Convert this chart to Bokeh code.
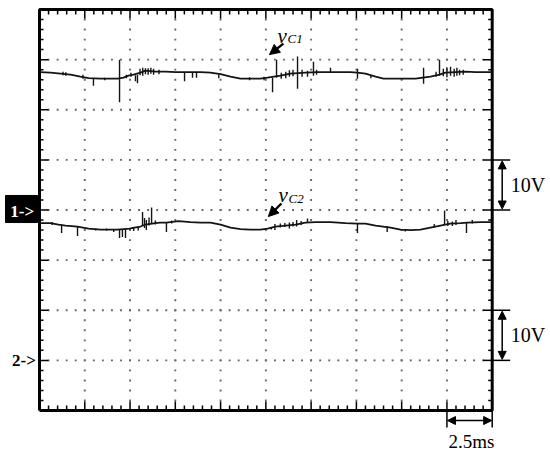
from bokeh.plotting import figure
from bokeh.models import Range1d, Label, Arrow, NormalHead
from bokeh.embed import file_html
from bokeh.resources import INLINE

# ---------------- data ----------------
MS_PER_DIV = 2.5          # time base
VOLTS_PER_DIV = 10.0      # both channels
CH1_REF_DIV = 4           # "1->" ground marker
CH2_REF_DIV = 1           # "2->" ground marker

# vC1: slowly varying envelope (ms, V)
vc1_t = [0, 0.61, 1.16, 1.71, 2.26, 2.71, 3.37, 3.92, 4.31, 4.64, 4.91, 5.19, 5.58, 5.85,
         6.41, 6.96, 7.51, 8.34, 8.89, 9.44, 10.0, 10.55, 11.10, 11.65, 12.20, 12.59, 13.31,
         13.86, 14.69, 15.35, 16.07, 16.62, 17.17, 17.56, 18.0, 18.56, 19.0, 19.94, 20.76,
         21.59, 22.09, 22.42, 22.97, 23.53, 24.08, 25.0]
vc1_v = [27.5, 27.4, 27.2, 27.0, 26.6, 26.3, 26.2, 26.2, 26.2, 26.4, 26.8, 27.0, 27.4, 27.8,
         27.6, 27.6, 27.5, 27.5, 27.5, 27.4, 27.1, 26.6, 26.2, 26.2, 26.2, 26.4, 26.8,
         27.2, 27.4, 27.5, 27.5, 27.5, 27.5, 27.4, 27.2, 26.6, 26.2, 26.2, 26.2,
         26.6, 27.0, 27.4, 27.5, 27.6, 27.5, 27.5]
# vC1 switching spikes (ms, low V, high V)
vc1_spike_t = [1.30, 1.45, 2.40, 2.98, 3.60, 4.42, 4.80, 5.05, 5.30, 5.41, 5.55, 5.70, 5.85,
               6.00, 6.15, 6.30, 6.60, 8.01, 8.45, 8.67, 9.90, 11.60, 12.40, 12.87, 13.09,
               13.35, 13.60, 13.80, 14.00, 14.25, 14.50, 14.80, 15.13, 15.30, 16.07, 17.56,
               18.30, 21.21, 21.90, 22.09, 22.30, 22.50, 22.70, 22.90, 23.05, 23.20, 23.40]
vc1_spike_lo = [26.9, 26.8, 26.2, 24.8, 25.9, 21.5, 26.3, 26.6, 25.7, 25.3, 26.9, 26.8, 27.1,
                27.0, 27.2, 27.0, 27.1, 25.7, 26.4, 26.4, 26.3, 25.9, 25.9, 23.5, 26.4,
                26.2, 26.3, 26.6, 26.7, 24.2, 26.6, 26.6, 26.8, 27.0, 27.5, 26.2,
                26.3, 25.2, 26.6, 26.8, 26.7, 26.5, 26.8, 26.6, 26.8, 26.9, 27.0]
vc1_spike_hi = [27.6, 27.5, 27.0, 26.3, 26.4, 30.0, 27.0, 27.4, 26.9, 27.0, 28.2, 28.4, 28.3,
                28.3, 28.4, 28.2, 28.0, 27.5, 27.5, 27.5, 27.1, 26.5, 26.6, 26.4, 30.0,
                27.4, 27.6, 27.9, 28.0, 30.6, 28.0, 27.8, 29.6, 28.0, 28.4, 28.2,
                26.9, 28.4, 27.6, 30.0, 28.2, 28.5, 28.6, 28.2, 28.4, 28.0, 28.0]

# vC2: slowly varying envelope (ms, V)
vc2_t = [0, 0.61, 1.05, 1.44, 2.10, 2.71, 3.37, 3.92, 4.31, 4.97, 5.24, 5.58, 5.85, 6.41,
         6.68, 7.00, 7.68, 8.34, 8.89, 9.44, 10.0, 10.55, 11.10, 11.65, 12.20, 12.59, 13.03,
         13.58, 14.14, 14.69, 15.24, 16.07, 16.90, 17.56, 18.0, 18.56, 19.39, 19.94, 20.49,
         21.04, 21.59, 22.14, 22.69, 23.25, 23.64, 24.36, 25.0]
vc2_v = [27.4, 27.4, 27.1, 26.9, 26.7, 26.3, 26.1, 26.1, 26.1, 26.3, 26.5, 26.7, 27.1, 27.4,
         27.5, 27.5, 27.8, 27.6, 27.5, 27.5, 27.1, 26.5, 26.2, 26.1, 26.1, 26.3, 26.7,
         26.9, 27.1, 27.5, 27.6, 27.6, 27.4, 27.3, 27.3, 26.9, 26.5, 26.1, 26.0,
         26.1, 26.5, 26.9, 27.3, 27.4, 27.5, 27.6, 27.6]
# vC2 switching spikes (ms, low V, high V)
vc2_spike_t = [0.70, 1.22, 2.10, 3.10, 3.70, 4.10, 4.42, 4.58, 4.75, 5.20, 5.45, 5.69, 5.80,
               5.90, 6.05, 6.19, 6.40, 7.01, 7.30, 12.80, 13.00, 13.30, 13.55, 13.80, 14.00,
               14.20, 14.45, 14.80, 17.56, 19.20, 20.20, 21.80, 22.37, 22.55, 22.80, 23.00,
               23.58, 23.90]
vc2_spike_lo = [27.0, 25.4, 24.8, 25.9, 25.9, 25.6, 24.4, 24.6, 24.4, 25.8, 25.9, 26.9, 26.4,
                26.0, 26.9, 27.2, 27.1, 25.6, 27.3, 26.1, 26.0, 26.5, 26.6, 26.3, 26.7,
                26.7, 27.0, 27.4, 25.4, 25.6, 25.7, 26.5, 27.0, 26.8, 26.8, 27.0,
                25.4, 27.3]
vc2_spike_hi = [27.6, 27.1, 26.7, 26.3, 26.3, 26.2, 26.1, 26.2, 26.2, 26.5, 26.7, 29.6, 28.4,
                28.0, 28.5, 30.5, 27.9, 27.5, 27.9, 26.6, 27.2, 27.3, 27.4, 27.5, 27.6,
                28.0, 27.8, 28.3, 27.3, 26.8, 26.1, 27.2, 29.9, 27.8, 27.7, 28.0,
                27.5, 28.0]

scale_labels = ["10V", "10V", "2.5ms"]
trace_labels = [("v", "C1"), ("v", "C2")]

# ---------------- figure ----------------
W, H = 550, 459
X0, Y0 = 39, 9      # pixel position of the graticule's left / top edge
PX_T = 18.108       # pixels per ms
PX_D = 50.125       # pixels per division
N_XDIV, N_YDIV = 10, 8
T_END = N_XDIV * MS_PER_DIV

p = figure(width=W, height=H,
           x_range=Range1d(-X0 / PX_T, (W - X0) / PX_T),
           y_range=Range1d(N_YDIV - (H - Y0) / PX_D, N_YDIV + Y0 / PX_D),
           output_backend="svg", toolbar_location=None,
           x_axis_type=None, y_axis_type=None, title=None,
           min_border=0, outline_line_color=None)
p.background_fill_color = "white"
p.border_fill_color = "white"

# graticule dots
dx, dy = [], []
for k in range(1, N_XDIV):
    for j in range(1, N_YDIV * 5):
        dx.append(k * MS_PER_DIV); dy.append(j * 0.2)
for k in range(1, N_YDIV):
    for i in range(1, N_XDIV * 5):
        dx.append(i * MS_PER_DIV / 5); dy.append(k)
p.scatter(dx, dy, marker="square", size=1.9, color="#666666", line_width=0)

# frame ticks
x0s, y0s, x1s, y1s = [], [], [], []
for j in range(1, N_YDIV * 5):
    L = (9 if j % 5 == 0 else 4) / PX_T
    y = j * 0.2
    x0s += [0, T_END]; x1s += [L, T_END - L]; y0s += [y, y]; y1s += [y, y]
for i in range(1, N_XDIV * 5):
    L = (9 if i % 5 == 0 else 5) / PX_D
    x = i * MS_PER_DIV / 5
    x0s += [x, x]; x1s += [x, x]; y0s += [0, N_YDIV]; y1s += [L, N_YDIV - L]
p.segment(x0s, y0s, x1s, y1s, line_color="black", line_width=1.5)

# frame
p.line([0, T_END, T_END, 0, 0], [0, 0, N_YDIV, N_YDIV, 0], line_color="black", line_width=3)

# traces
def to_div(vals, ref):
    return [ref + v / VOLTS_PER_DIV for v in vals]

TRACE = "#141414"
p.line(vc1_t, to_div(vc1_v, CH1_REF_DIV), line_color=TRACE, line_width=1.8)
p.segment(vc1_spike_t, to_div(vc1_spike_lo, CH1_REF_DIV), vc1_spike_t,
          to_div(vc1_spike_hi, CH1_REF_DIV), line_color=TRACE, line_width=1.4)
p.line(vc2_t, to_div(vc2_v, CH2_REF_DIV), line_color=TRACE, line_width=1.8)
p.segment(vc2_spike_t, to_div(vc2_spike_lo, CH2_REF_DIV), vc2_spike_t,
          to_div(vc2_spike_hi, CH2_REF_DIV), line_color=TRACE, line_width=1.4)

SERIF = "Liberation Serif"
INK = "black"

# trace labels + arrows
for (main, sub), (tx, ty, sx, sy, ax0, ay0, ax1, ay1) in zip(
        trace_labels,
        [(13.14, 7.48, 13.70, 7.42, 13.47, 7.32, 12.70, 7.10),
         (13.20, 4.29, 13.75, 4.23, 13.36, 4.13, 12.64, 3.87)]):
    p.add_layout(Label(x=tx, y=ty, text=main, text_font=SERIF, text_font_size="21px",
                       text_color=INK, text_font_style="italic", text_baseline="alphabetic"))
    p.add_layout(Label(x=sx, y=sy, text=sub, text_font=SERIF, text_font_size="13px",
                       text_color=INK, text_font_style="italic", text_baseline="alphabetic"))
    p.add_layout(Arrow(x_start=ax0, y_start=ay0, x_end=ax1, y_end=ay1, line_width=2.4,
                       end=NormalHead(size=10, fill_color="black", line_color="black")))

# volts/div scale bars on the right
xb = T_END + 10 / PX_T
for ref in (CH1_REF_DIV, CH2_REF_DIV):
    p.segment([T_END, T_END], [ref, ref + 1], [T_END + 18 / PX_T] * 2, [ref, ref + 1],
              line_color="black", line_width=1.5)
    p.add_layout(Arrow(x_start=xb, y_start=ref + 0.02, x_end=xb, y_end=ref + 0.98, line_width=1.5,
                       start=NormalHead(size=8, fill_color="black", line_color="black"),
                       end=NormalHead(size=8, fill_color="black", line_color="black")))
for ref, txt in zip((CH1_REF_DIV, CH2_REF_DIV), scale_labels[:2]):
    p.add_layout(Label(x=T_END + 18.5 / PX_T, y=ref + 0.5, text=txt, text_font=SERIF,
                       text_color=INK, text_font_size="20px", text_baseline="middle"))

# time/div scale bar below
t_a = T_END - MS_PER_DIV
p.segment([t_a, T_END], [0, 0], [t_a, T_END], [-17 / PX_D] * 2, line_color="black", line_width=1.5)
p.add_layout(Arrow(x_start=t_a + 0.03, y_start=-0.2, x_end=T_END - 0.03, y_end=-0.2, line_width=1.5,
                   start=NormalHead(size=8, fill_color="black", line_color="black"),
                   end=NormalHead(size=8, fill_color="black", line_color="black")))
p.add_layout(Label(x=(t_a + T_END) / 2 + 0.1, y=-0.62, text=scale_labels[2], text_font=SERIF,
                   text_color=INK, text_font_size="19px", text_align="center",
                   text_baseline="middle"))

# channel ground markers
p.quad(left=[-34 / PX_T], right=[-2 / PX_T], bottom=[CH1_REF_DIV - 0.25],
       top=[CH1_REF_DIV + 0.29], color="black")
p.add_layout(Label(x=-0.95, y=CH1_REF_DIV - 0.03, text="1->", text_font=SERIF, text_color="white",
                   text_font_size="17px", text_font_style="bold", text_align="center",
                   text_baseline="middle"))
p.add_layout(Label(x=-0.86, y=CH2_REF_DIV - 0.01, text="2->", text_font=SERIF, text_color=INK,
                   text_font_size="17px", text_font_style="bold", text_align="center",
                   text_baseline="middle"))

open("out.html", "w").write(file_html(p, INLINE))
